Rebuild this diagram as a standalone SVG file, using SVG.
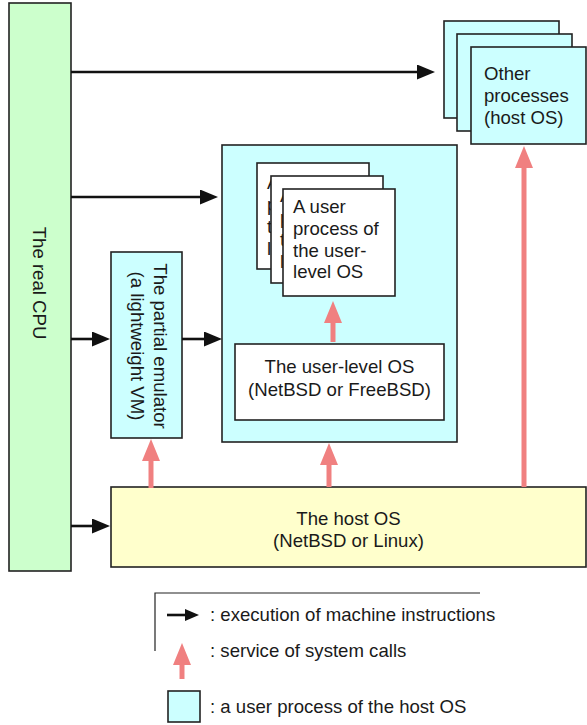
<svg xmlns="http://www.w3.org/2000/svg" width="587" height="725" viewBox="0 0 587 725">
<style>
  text { font-family: "Liberation Sans", Arial, sans-serif; font-size: 18.6px; fill: #1a1a1a; }
  .box { stroke: #222; stroke-width: 1.6; }
  .cpu { fill: #ccffcc; }
  .proc { fill: #ccffff; }
  .white { fill: #ffffff; }
  .host { fill: #ffffcc; }
  .exec { stroke: #111; stroke-width: 2.6; fill: none; }
  .sys { stroke: #f08080; stroke-width: 5; fill: none; }
  .mid { text-anchor: middle; }
</style>
<defs>
  <marker id="bh" markerUnits="userSpaceOnUse" markerWidth="18" markerHeight="15" refX="0" refY="7.5" orient="auto">
    <path d="M0,0 L18,7.5 L0,15 z" fill="#111"/>
  </marker>
  <marker id="bhs" markerUnits="userSpaceOnUse" markerWidth="14" markerHeight="12" refX="0" refY="6" orient="auto">
    <path d="M0,0 L14,6 L0,12 z" fill="#111"/>
  </marker>
  <marker id="rh" markerUnits="userSpaceOnUse" markerWidth="22" markerHeight="18" refX="0" refY="9" orient="auto">
    <path d="M0,0 L22,9 L0,18 z" fill="#f08080"/>
  </marker>
</defs>

<g id="cpu">
  <rect class="box cpu" x="9" y="3" width="62" height="568"/>
  <text class="mid" transform="translate(32.5,283) rotate(90)">The real CPU</text>
</g>

<g id="other-processes">
  <rect class="box proc" x="444" y="21" width="115" height="97"/>
  <rect class="box proc" x="457" y="34" width="115" height="97"/>
  <rect class="box proc" x="471" y="47" width="115" height="97"/>
  <text x="484" y="80">Other</text>
  <text x="484" y="102">processes</text>
  <text x="484" y="124">(host OS)</text>
</g>

<g id="user-level-vm">
  <rect class="box proc" x="222" y="145" width="235" height="297"/>
</g>

<g id="user-processes">
  <rect class="box white" x="257" y="163" width="112" height="106"/>
  <text x="267" y="189">A</text>
  <text x="267" y="211">p</text>
  <text x="267" y="233">t</text>
  <text x="267" y="255">l</text>
  <rect class="box white" x="271" y="176" width="112" height="107"/>
  <text x="280" y="202">A</text>
  <text x="280" y="224">p</text>
  <text x="280" y="246">t</text>
  <text x="280" y="268">l</text>
  <rect class="box white" x="283" y="189" width="112" height="107"/>
  <text x="293" y="213">A user</text>
  <text x="293" y="235">process of</text>
  <text x="293" y="257">the user-</text>
  <text x="293" y="278">level OS</text>
</g>

<g id="user-level-os">
  <rect class="box white" x="235" y="344" width="209" height="76"/>
  <text class="mid" x="339.5" y="373">The user-level OS</text>
  <text class="mid" x="339.5" y="396">(NetBSD or FreeBSD)</text>
</g>

<g id="partial-emulator">
  <rect class="box proc" x="111" y="252" width="71" height="186"/>
  <text class="mid" transform="translate(153.5,346) rotate(90)">The partial emulator</text>
  <text class="mid" transform="translate(130.5,346) rotate(90)">(a lightweight VM)</text>
</g>

<g id="host-os">
  <rect class="box host" x="111" y="487" width="475" height="80"/>
  <text class="mid" x="348.5" y="525">The host OS</text>
  <text class="mid" x="348.5" y="547">(NetBSD or Linux)</text>
</g>

<g id="connectors">
  <line class="exec" x1="71" y1="72" x2="417" y2="72" marker-end="url(#bh)"/>
  <line class="exec" x1="71" y1="197" x2="200" y2="197" marker-end="url(#bh)"/>
  <line class="exec" x1="71" y1="339" x2="92" y2="339" marker-end="url(#bh)"/>
  <line class="exec" x1="182" y1="339" x2="204" y2="339" marker-end="url(#bh)"/>
  <line class="exec" x1="71" y1="526" x2="92" y2="526" marker-end="url(#bh)"/>
  <line class="sys" x1="151" y1="488" x2="151" y2="461" marker-end="url(#rh)"/>
  <line class="sys" x1="329" y1="487" x2="329" y2="465" marker-end="url(#rh)"/>
  <line class="sys" x1="333" y1="342" x2="333" y2="323" marker-end="url(#rh)"/>
  <line class="sys" x1="524" y1="487" x2="524" y2="168" marker-end="url(#rh)"/>
</g>

<g id="legend">
  <path d="M155,651 L155,593 L480,593" fill="none" stroke="#222" stroke-width="1.2"/>
  <line class="exec" x1="167" y1="615" x2="185" y2="615" marker-end="url(#bhs)"/>
  <text x="210" y="621">: execution of machine instructions</text>
  <line class="sys" x1="182" y1="679" x2="182" y2="665" marker-end="url(#rh)"/>
  <text x="210" y="657">: service of system calls</text>
  <rect class="box proc" x="168" y="691" width="32" height="31"/>
  <text x="210" y="713">: a user process of the host OS</text>
</g>
</svg>
